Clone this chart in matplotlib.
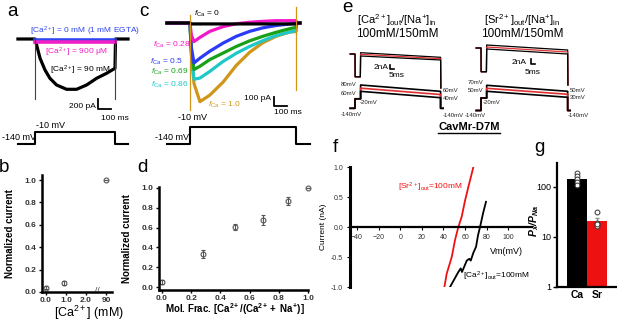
import numpy as np
import matplotlib
matplotlib.use("Agg")
import matplotlib.pyplot as plt
from matplotlib.lines import Line2D

# ---- panel a: currents during a step to -10 mV (ms, pA)
a_pulse = [0, 600]
a_t_black = [-128, -60, 0, 12, 38, 75, 112, 162, 237, 312, 387, 462, 537, 600, 604, 650, 698]
a_i_black = [0, 0, 0, -120, -386, -620, -786, -920, -1006, -1006, -920, -786, -686, -586, 0, 0, 0]
a_i_egta = [-20, -20]
a_i_900uM = [-55, -55]
a_cap = -1200
a_prot_t = [-128, 0, 0, 600, 600, 698]
a_prot_v = [-140, -140, -10, -10, -140, -140]

# ---- panel b: normalized current vs [Ca2+]
b_conc = [0.0, 0.9, 90]
b_norm = [0.04, 0.08, 1.0]
b_err = [0.015, 0.015, 0.0]
b_ticks = ["0.0", "1.0", "2.0", "90"]

# ---- panel c: mole-fraction currents (ms, pA)
c_t = [-174, -100, 0, 10, 30, 75, 150, 250, 350, 450, 550, 650, 750, 800, 806, 830]
c_traces = {
    "1.0":  [0, 0, 0, -300, -650, -846, -775, -635, -455, -315, -212, -143, -98, -92, 0, 0],
    "0.86": [0, 0, 0, -330, -605, -592, -520, -413, -325, -252, -190, -135, -98, -82, 0, 0],
    "0.69": [0, 0, 0, -300, -500, -465, -393, -323, -252, -192, -143, -100, -62, -47, 0, 0],
    "0.5":  [0, 0, 0, -260, -430, -378, -303, -216, -143, -90, -52, -27, -11, -5, 0, 0],
    "0.28": [0, 0, 0, -130, -200, -155, -90, -39, -8, 8, 18, 25, 25, 25, 0, 0],
    "0":    [0, 0, 0, -10, -10, -10, -10, -10, -10, -10, -10, -10, -10, -10, 0, 0],
}
c_colors = {"1.0": "#cf961a", "0.86": "#1fc8c8", "0.69": "#18a018",
            "0.5": "#2a3cf5", "0.28": "#f218c8", "0": "black"}
c_pulse = [0, 800]
c_cap_top = [86, 172]
c_cap_bot = [-935, -720]
c_prot_t = [-174, 0, 0, 800, 800, 906]
c_prot_v = [-140, -140, -10, -10, -140, -140]

# ---- panel d: normalized current vs mole fraction
d_frac = [0.0, 0.28, 0.5, 0.69, 0.86, 1.0]
d_norm = [0.05, 0.33, 0.61, 0.68, 0.87, 1.0]
d_err = [0.02, 0.04, 0.03, 0.05, 0.04, 0.0]

# ---- panel e: ramp protocols (mV) and currents (nA)
e_step_ms = 7
e_ramp_ms = 100
e_ca_v_start = [80, 70, 60]
e_ca_v_end = [60, 50, 40]
e_sr_v_start = [70, 60, 50]
e_sr_v_end = [50, 40, 30]
e_ca_i_start = [0.65, -0.15, -1.0]
e_ca_i_end = [-1.65, -2.35, -3.0]
e_sr_i_start = [1.2, 0.4, -0.4]
e_sr_i_end = [-0.8, -1.6, -2.4]
e_ca_dip = -11.4
e_sr_dip = -9.5
e_ca_tail = -17
e_sr_tail = -14.8
e_sweep_colors = ["black", "#e03030", "black"]

# ---- panel f: I-V from ramps
f_sr_v = [40.9, 43.0, 47.7, 50.7, 53.8, 56.9, 60.0, 63.1, 66.2, 67.7]
f_sr_i = [-1.0, -0.78, -0.5, -0.22, 0.0, 0.17, 0.44, 0.67, 0.89, 1.0]
f_ca_v = [46.1, 53.8, 56.0, 57.2, 61.6, 64.0, 65.3, 67.7, 70.2, 72.0, 73.9, 76.7, 79.4]
f_ca_i = [-1.0, -0.75, -0.69, -0.75, -0.56, -0.53, -0.56, -0.43, -0.33, -0.14, 0.0, 0.23, 0.42]

# ---- panel g: permeability ratios
g_ions = ["Ca", "Sr"]
g_mean = [147, 21]
g_sem = [15, 3]
g_pts = [[188, 166, 143, 128, 110], [32, 19.3, 16.6, 18.2]]
g_colors = ["black", "#ee1111"]

plt.rcParams["font.family"] = ["Liberation Sans", "DejaVu Sans"]
plt.rcParams["mathtext.fontset"] = "custom"
plt.rcParams["mathtext.rm"] = "Liberation Sans"
plt.rcParams["mathtext.it"] = "Liberation Sans:italic"
plt.rcParams["mathtext.bf"] = "Liberation Sans:bold"
plt.rcParams["mathtext.sf"] = "Liberation Sans:bold:italic"

W, H = 617, 322
fig = plt.figure(figsize=(W / 100, H / 100), dpi=100)


def px_ax(x0, y0, x1, y1):
    return fig.add_axes([x0 / W, 1 - y1 / H, (x1 - x0) / W, (y1 - y0) / H])


def trace_ax(x0, y0, x1, y1, t0_px, px_per_t, i0_px, px_per_i):
    # axes whose data units sit on the picture's pixel grid
    ax = px_ax(x0, y0, x1, y1)
    ax.set_xlim((x0 - t0_px) / px_per_t, (x1 - t0_px) / px_per_t)
    ax.set_ylim((i0_px - y1) / px_per_i, (i0_px - y0) / px_per_i)
    ax.axis("off")
    return ax


def ftext(x, y, s, **kw):
    kw.setdefault("ha", "center")
    kw.setdefault("va", "center")
    return fig.text(x / W, 1 - y / H, s, **kw)


def style_axes(ax, lw=1.8):
    for side in ["top", "right"]:
        ax.spines[side].set_visible(False)
    for side in ["left", "bottom"]:
        ax.spines[side].set_linewidth(lw)
    ax.tick_params(direction="out", length=2.5, width=1, labelsize=6, pad=1.5,
                   labelcolor="#333333")
    ax.tick_params(axis="x", pad=0.8)
    for lab in ax.get_xticklabels() + ax.get_yticklabels():
        lab.set_fontweight("bold")


# ================= panel a
ax = trace_ax(10, 20, 135, 125, 35, 0.1333, 39, 0.05)
ax.plot(a_t_black, a_i_black, color="black", lw=2.3, clip_on=False)
ax.plot(a_pulse, a_i_egta, color="#3046f0", lw=2.6)
ax.plot(a_pulse, a_i_900uM, color="#f020c8", lw=2.6)
for t in a_pulse:
    ax.plot([t, t], [0, a_cap], color="#444444", lw=0.8)
ax.plot([472, 472, 572], [-1200, -1400, -1400], color="black", lw=1.3)

ax = trace_ax(10, 122, 135, 150, 35, 0.1333, 130.54, 0.0962)
ax.plot(a_prot_t, a_prot_v, color="black", lw=1.5, clip_on=False)

ftext(12.5, 12, "a", fontsize=13.5)
ftext(85, 31, "[Ca$^{2+}$] = 0 mM (1 mM EGTA)", fontsize=6, color="#3046f0")
ftext(77, 52, "[Ca$^{2+}$] = 900 \u03bcM", fontsize=6, color="#f020c8")
ftext(80, 70, "[Ca$^{2+}$] = 90 mM", fontsize=6)
ftext(96, 106, "200 pA", fontsize=6, ha="right")
ftext(115, 118, "100 ms", fontsize=6)
ftext(50, 126, "-10 mV", fontsize=6.5)
ftext(19, 138, "-140 mV", fontsize=6.5)

# ================= panel b
bx = px_ax(42, 175, 112, 292)
b_pos = np.where(np.array(b_conc) <= 2, b_conc, 3.0)
bx.errorbar(b_pos, b_norm, yerr=b_err, fmt="o", mfc="none", mec="#555555",
            ecolor="#555555", ms=3.5, mew=0.8, elinewidth=0.8, capsize=1.5, clip_on=False)
bx.set_xlim(-0.2, 3.3)
bx.set_ylim(0, 1.045)
bx.set_xticks([0, 1, 2, 3])
bx.set_xticklabels(b_ticks)
bx.set_yticks(np.arange(0, 1.01, 0.2))
bx.set_yticklabels(["%.1f" % v for v in np.arange(0, 1.01, 0.2)])
style_axes(bx)
bx.text(2.55, 0.015, "//", ha="center", va="center", fontsize=6, color="#333333")
bx.set_ylabel("Normalized current", fontsize=7, fontweight="bold")
bx.yaxis.set_label_coords(-0.39, 0.5)
ftext(4, 167, "b", fontsize=13.5)
ftext(89, 313, "[Ca$^{2+}$] (mM)", fontsize=9)

# ================= panel c
ax = trace_ax(150, 3, 312, 125, 190, 0.1325, 23, 0.093)
for key in ["1.0", "0.86", "0.69", "0.5", "0.28", "0"]:
    ax.plot(c_t, c_traces[key], color=c_colors[key], lw=2.3, clip_on=False)
for t, top, bot in zip(c_pulse, c_cap_top, c_cap_bot):
    ax.plot([t, t], [top, bot], color="#cf961a", lw=0.9, clip_on=False)
ax.plot([634, 634, 734], [-792, -892, -892], color="black", lw=1.3)

ax = trace_ax(150, 122, 312, 150, 190, 0.1325, 125.69, 0.1308)
ax.plot(c_prot_t, c_prot_v, color="black", lw=1.5, clip_on=False)

ftext(144, 12, "c", fontsize=13.5)
ftext(207, 14, "$f_{\\rm Ca}$ = 0", fontsize=6)
ftext(172, 45, "$f_{\\rm Ca}$ = 0.28", fontsize=6, color=c_colors["0.28"])
ftext(166, 62, "$f_{\\rm Ca}$ = 0.5", fontsize=6, color=c_colors["0.5"])
ftext(170, 72, "$f_{\\rm Ca}$ = 0.69", fontsize=6, color=c_colors["0.69"])
ftext(170, 85, "$f_{\\rm Ca}$ = 0.86", fontsize=6, color=c_colors["0.86"])
ftext(224, 105, "$f_{\\rm Ca}$ = 1.0", fontsize=6, color=c_colors["1.0"])
ftext(271, 99, "100 pA", fontsize=6, ha="right")
ftext(288, 113, "100 ms", fontsize=6)
ftext(193, 118, "-10 mV", fontsize=6.5)
ftext(172, 137, "-140 mV", fontsize=6.5)

# ================= panel d
dx = px_ax(159, 187, 308, 290)
dx.errorbar(d_frac, d_norm, yerr=d_err, fmt="o", mfc="none", mec="#555555",
            ecolor="#555555", ms=3.5, mew=0.8, elinewidth=0.8, capsize=1.5, clip_on=False)
dx.set_xlim(-0.0205, 1.0)
dx.set_ylim(-0.03, 1.01)
dx.set_xticks(np.arange(0, 1.01, 0.2))
dx.set_xticklabels(["%.1f" % v for v in np.arange(0, 1.01, 0.2)])
dx.set_yticks(np.arange(0, 1.01, 0.2))
dx.set_yticklabels(["%.1f" % v for v in np.arange(0, 1.01, 0.2)])
style_axes(dx)
dx.set_ylabel("Normalized current", fontsize=7, fontweight="bold")
dx.yaxis.set_label_coords(-0.18, 0.5)
ftext(142, 167, "d", fontsize=13.5)
ftext(235, 309, "Mol. Frac. [$\\mathbf{Ca^{2+}/(Ca^{2+}+\\ Na^{+})}$]",
      fontsize=7, fontweight="bold")


# ================= panel e
def ramp_panel(box_x0, box_x1, t0_px, px_per_ms, i0_px, px_per_na, i_box,
               v_knots, px_knots, v_start, v_end, i_start, i_end, dip, tail, bar_at):
    cax = trace_ax(box_x0, i_box[0], box_x1, i_box[1], t0_px, px_per_ms, i0_px, px_per_na)
    vax = px_ax(box_x0, px_knots[-1], box_x1, px_knots[0])
    neg_px = -np.array(px_knots, dtype=float)
    vax.set_yscale("function", functions=(lambda v: np.interp(v, v_knots, neg_px),
                                          lambda d: np.interp(d, neg_px, v_knots)))
    vax.set_ylim(v_knots[0], v_knots[-1])
    vax.set_xlim(cax.get_xlim())
    vax.axis("off")
    t_end = e_step_ms + e_ramp_ms
    for k in range(len(v_start)):
        col = e_sweep_colors[k]
        cax.plot([-6, 0, 0.2, e_step_ms - 0.3, e_step_ms, t_end, t_end + 0.3],
                 [0, 0, dip, dip, i_start[k], i_end[k], tail],
                 color=col, lw=0.9, clip_on=False)
        vax.plot([-6, 0, 0, e_step_ms, e_step_ms, t_end, t_end, t_end + 3],
                 [-140, -140, -20, -20, v_start[k], v_end[k], -140, -140],
                 color=col, lw=1.2, clip_on=False)
    bt, bi = bar_at
    cax.plot([bt, bt, bt + 5], [bi + 2, bi, bi], color="black", lw=1.2, clip_on=False)


ramp_panel(340, 450, 355, 0.8, 54, 2.0, (40, 90), [-140, -20, 40, 80], [108.3, 98.8, 97.7, 85],
           e_ca_v_start, e_ca_v_end, e_ca_i_start, e_ca_i_end, e_ca_dip, e_ca_tail, (43.75, -7.5))
ramp_panel(465, 590, 481, 0.81, 48, 2.5, (35, 85), [-140, -20, 30, 70], [110.5, 98, 97.3, 85.3],
           e_sr_v_start, e_sr_v_end, e_sr_i_start, e_sr_i_end, e_sr_dip, e_sr_tail, (61.7, -6.4))

ftext(347, 7, "e", fontsize=13.5)
ftext(397, 20.5, "[Ca$^{2+}$]$_{\\rm out}$/[Na$^{+}$]$_{\\rm in}$", fontsize=8)
ftext(397, 34, "100mM/150mM", fontsize=8.5)
ftext(522, 20.5, "[Sr$^{2+}$]$_{\\rm out}$/[Na$^{+}$]$_{\\rm in}$", fontsize=8)
ftext(522, 34, "100mM/150mM", fontsize=8.5)
ftext(381, 68, "2nA", fontsize=6)
ftext(397, 75, "5ms", fontsize=6)
ftext(519, 62, "2nA", fontsize=6)
ftext(533, 72, "5ms", fontsize=6)
small = dict(fontsize=4.3, color="#222222")
ftext(349, 84, "80mV", **small)
ftext(349, 93, "60mV", **small)
ftext(369, 102, "-20mV", **small)
ftext(351, 114, "-140mV", **small)
ftext(451, 90, "60mV", **small)
ftext(451, 99, "40mV", **small)
ftext(453, 115, "-140mV", **small)
ftext(476, 83, "70mV", **small)
ftext(476, 90, "50mV", **small)
ftext(492, 102, "-20mV", **small)
ftext(475, 115, "-140mV", **small)
ftext(578, 90, "50mV", **small)
ftext(578, 97, "30mV", **small)
ftext(578, 115, "-140mV", **small)
name = ftext(469, 127, "CavMr-D7M", fontsize=8, fontweight="bold")

# ================= panel f
fx = px_ax(350, 167, 532, 287)
fx.plot(f_sr_v, f_sr_i, color="#ee1111", lw=1.3)
fx.plot(f_ca_v, f_ca_i, color="black", lw=1.3)
fx.set_xlim(-46.5, 122)
fx.set_ylim(-1.0, 1.0)
fx.spines["top"].set_visible(False)
fx.spines["right"].set_visible(False)
fx.spines["left"].set_linewidth(2.2)
fx.spines["bottom"].set_position(("data", 0))
fx.spines["bottom"].set_linewidth(1.6)
fx.set_xticks(np.arange(-40, 101, 20))
fx.set_yticks([-1.0, -0.5, 0.0, 0.5, 1.0])
fx.set_yticklabels(["-1.0", "-0.5", "0.0", "0.5", "1.0"])
fx.tick_params(direction="out", length=2, width=0.8, labelsize=5, labelcolor="#333333", pad=3)
fx.set_ylabel("Current (nA)", fontsize=6)
fx.yaxis.set_label_coords(-0.126, 0.5)
ftext(335, 148, "f", fontsize=13.5)
ftext(506, 251, "Vm(mV)", fontsize=6.5)
ftext(430, 187, "[Sr$^{2+}$]$_{\\rm out}$=100mM", fontsize=6, color="#ee1111")
ftext(496, 276, "[Ca$^{2+}$]$_{\\rm out}$=100mM", fontsize=6)

# ================= panel g
gx = px_ax(557, 163, 617, 287)
xpos = np.arange(len(g_ions))
gx.bar(xpos, g_mean, width=1.0, color=g_colors, yerr=g_sem, ecolor="#888888",
       error_kw=dict(elinewidth=0.8, capsize=1.5))
for x, pts in zip(xpos, g_pts):
    gx.plot([x] * len(pts), pts, "o", mfc="white", mec="#333333", ms=3.5, mew=0.7)
gx.set_yscale("log")
gx.set_ylim(1, 300)
gx.set_xlim(-1.0, 2.0)
gx.set_xticks(xpos)
gx.set_xticklabels(g_ions)
gx.set_yticks([1, 10, 100])
gx.set_yticklabels(["1", "10", "100"])
gx.minorticks_off()
gx.spines["top"].set_visible(False)
gx.spines["right"].set_visible(False)
gx.spines["left"].set_linewidth(1.6)
gx.spines["bottom"].set_linewidth(1.6)
gx.tick_params(axis="y", direction="out", length=3, width=1, labelsize=6.5, pad=1)
gx.tick_params(axis="x", length=0, labelsize=7.5, pad=2)
for lab in gx.get_xticklabels():
    lab.set_fontweight("bold")
gx.set_ylabel("$\\mathsf{P}_\\mathsf{x}\\mathsf{/P}_\\mathsf{Na}$", fontsize=7.5)
gx.yaxis.set_label_coords(-0.27, 0.53)
ftext(539, 147, "g", fontsize=13.5)

# underline under the construct name
fig.canvas.draw()
bb = name.get_window_extent()
fig.add_artist(Line2D([bb.x0 / W, bb.x1 / W], [(bb.y0 - 1) / H, (bb.y0 - 1) / H],
                      transform=fig.transFigure, color="black", lw=1.0))

fig.savefig("out.png", dpi=100, facecolor="white")
